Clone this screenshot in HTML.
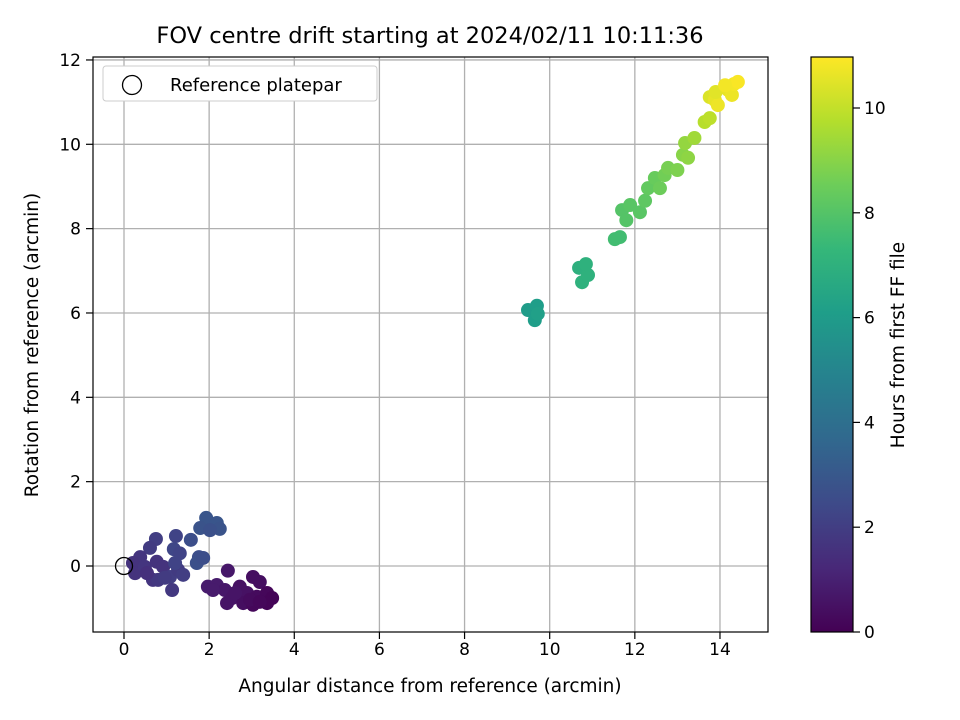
<!DOCTYPE html>
<html><head><meta charset="utf-8"><style>
body{margin:0;background:#fff;}
svg{display:block;font-family:"DejaVu Sans","Liberation Sans",sans-serif;}
</style></head><body>
<svg id="chart" width="960" height="720" xmlns="http://www.w3.org/2000/svg">
<defs><linearGradient id="vir" x1="0" y1="1" x2="0" y2="0"></linearGradient></defs>
<rect width="960" height="720" fill="#fff"/>
<g id="grid"></g>
<g id="pts"></g>
<g id="axes"></g>
<text x="430" y="43" font-size="22.5" text-anchor="middle">FOV centre drift starting at 2024/02/11 10:11:36</text>
<text x="430" y="692" font-size="18.5" text-anchor="middle">Angular distance from reference (arcmin)</text>
<text transform="translate(38,345) rotate(-90)" font-size="18.5" text-anchor="middle">Rotation from reference (arcmin)</text>
<text transform="translate(904,345) rotate(-90)" font-size="18.5" text-anchor="middle">Hours from first FF file</text>
<g>
<rect x="103" y="66" width="274" height="35" rx="3" fill="#fff" stroke="#ccc"/>
<circle cx="132" cy="85" r="9.5" fill="none" stroke="#000" stroke-width="1.3"/>
<text x="170" y="91" font-size="18">Reference platepar</text>
</g>
</svg>
<script>
const xs=[9.49,9.70,9.65,9.72,10.69,10.76,10.9,10.85,11.53,11.65,11.70,11.8,11.89,12.12,12.24,12.31,12.47,12.59,12.7,12.78,13.0,13.13,13.25,13.18,13.4,13.64,13.76,13.76,13.88,13.95,13.9,14.19,14.28,14.33,14.42,14.12,
1.93,2.18,2.25,1.79,2.02,1.57,1.22,1.17,1.76,1.71,1.86,0.75,0.61,0.38,0.21,0.26,0.49,0.77,0.68,0.92,1.08,1.27,1.31,1.2,0.8,1.13,0.54,0.96,1.39,
2.44,1.97,2.18,2.37,2.54,2.42,2.72,2.89,3.03,3.19,2.8,3.12,3.36,3.48,3.36,3.03,2.61,2.96,2.09,3.19];
const ys=[6.07,6.17,5.83,5.98,7.07,6.73,6.9,7.16,7.75,7.8,8.44,8.2,8.56,8.39,8.66,8.96,9.2,8.96,9.27,9.44,9.39,9.75,9.68,10.03,10.15,10.53,10.62,11.12,11.05,10.93,11.24,11.29,11.17,11.43,11.48,11.4,
1.14,1.02,0.88,0.9,0.85,0.62,0.71,0.4,0.21,0.07,0.19,0.64,0.43,0.21,0.07,-0.17,-0.02,0.1,-0.33,-0.02,-0.26,-0.09,0.3,0.07,-0.33,-0.57,-0.17,-0.28,-0.21,
-0.11,-0.49,-0.45,-0.57,-0.76,-0.88,-0.49,-0.64,-0.26,-0.38,-0.88,-0.73,-0.64,-0.76,-0.88,-0.92,-0.64,-0.8,-0.57,-0.85];
const hours=[6.0,6.1,6.1,6.2,6.9,7.0,7.0,7.0,7.6,7.6,8.0,8.0,8.1,8.1,8.2,8.3,8.4,8.5,8.6,8.7,8.8,9.0,9.1,9.2,9.4,9.8,9.9,10.4,10.6,10.7,10.5,10.6,10.7,10.8,10.9,10.8,
2.9,2.9,2.8,2.8,2.7,2.6,2.2,2.3,2.6,2.7,2.6,2.0,1.9,1.7,1.6,1.6,1.7,1.6,1.7,1.6,2.0,1.9,2.2,2.2,1.8,1.8,1.5,1.9,2.0,
0.7,0.8,0.8,0.7,0.6,0.6,0.5,0.5,0.4,0.4,0.4,0.3,0.2,0.1,0.1,0.2,0.6,0.3,0.8,0.2];
const xTicks=[0,2,4,6,8,10,12,14];
const yTicks=[0,2,4,6,8,10,12];
const cTicks=[0,2,4,6,8,10];
const L=93,R=768,T=57,B=632;
const X=v=>124+v*42.57, Y=v=>566-v*42.17;
const CMAX=10.97, CB=v=>632-v*52.4;
const vir=[[68,1,84],[72,40,120],[62,74,137],[49,104,142],[38,130,142],[31,158,137],[53,183,121],[109,205,89],[180,222,44],[253,231,37]];
function col(h){let t=Math.max(0,Math.min(1,h/CMAX))*(vir.length-1);let i=Math.min(Math.floor(t),vir.length-2),f=t-i;
const c=vir[i].map((a,k)=>Math.round(a+(vir[i+1][k]-a)*f));return `rgb(${c})`;}
const NS="http://www.w3.org/2000/svg";
function mk(p,tag,at){const e=document.createElementNS(NS,tag);for(const k in at)e.setAttribute(k,at[k]);p.appendChild(e);return e;}
const g=document.getElementById('grid'),a=document.getElementById('axes'),pg=document.getElementById('pts');
xTicks.forEach(v=>{const l=mk(g,'line',{x1:X(v),x2:X(v),y1:T,y2:B,stroke:'#b0b0b0','stroke-width':1.3});


mk(a,'line',{x1:X(v),x2:X(v),y1:B,y2:B+7,stroke:'#000','stroke-width':1.2});
const t=mk(a,'text',{x:X(v),y:B+23,'font-size':17,'text-anchor':'middle'});t.textContent=v;

});
yTicks.forEach(v=>{const l=mk(g,'line',{x1:L,x2:R,y1:Y(v),y2:Y(v),stroke:'#b0b0b0','stroke-width':1.3});


mk(a,'line',{x1:L-7,x2:L,y1:Y(v),y2:Y(v),stroke:'#000','stroke-width':1.2});
const t=mk(a,'text',{x:L-12,y:Y(v)+6,'font-size':17,'text-anchor':'end'});t.textContent=v;

});
xs.forEach((x,i)=>{const c=mk(pg,'circle',{cx:X(x),cy:Y(ys[i]),r:7,fill:col(hours[i])});

});
mk(pg,'circle',{cx:X(0),cy:Y(0),r:8.5,fill:'none',stroke:'#000','stroke-width':1.3});
mk(a,'rect',{x:L,y:T,width:R-L,height:B-T,fill:'none',stroke:'#000','stroke-width':1.2});
const gr=document.getElementById('vir');
vir.forEach((c,i)=>mk(gr,'stop',{offset:i/(vir.length-1),'stop-color':`rgb(${c})`}));
const cb=mk(a,'rect',{x:811,y:T,width:42,height:B-T,fill:'url(#vir)',stroke:'#000','stroke-width':1.2});


cTicks.forEach(v=>{mk(a,'line',{x1:853,x2:860,y1:CB(v),y2:CB(v),stroke:'#000','stroke-width':1.2});
const t=mk(a,'text',{x:864,y:CB(v)+6,'font-size':17});t.textContent=v;

});
</script>
</body></html>
